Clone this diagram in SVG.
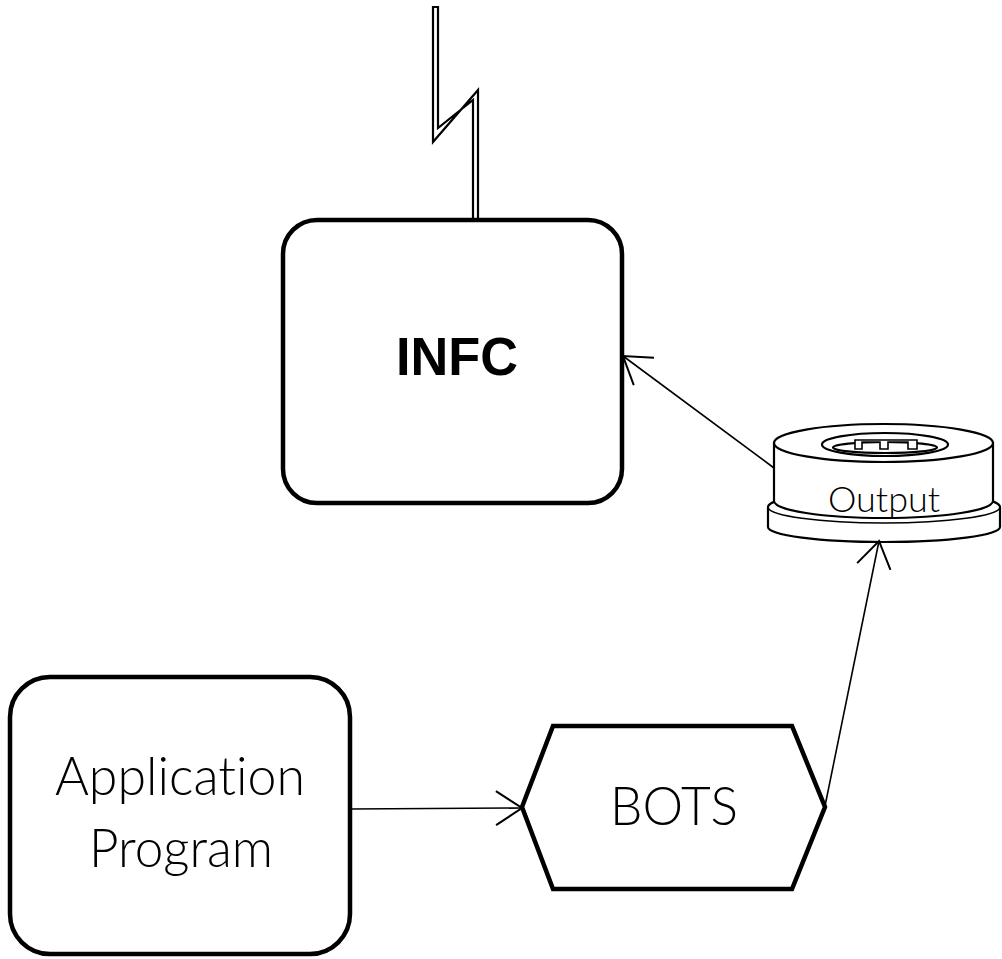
<svg xmlns="http://www.w3.org/2000/svg" width="1002" height="959" viewBox="0 0 1002 959">
  <style>
    .box { fill: #fff; stroke: #000; stroke-width: 4.5; }
    .thin { fill: #fff; stroke: #000; stroke-width: 2.2; }
    .wire { fill: none; stroke: #000; stroke-width: 1.6; }
    .label { font-family: "Liberation Sans", Arial, sans-serif; fill: #000; text-anchor: middle; }
    .light { font-family: Lato, "Liberation Sans", Arial, sans-serif; font-weight: 300; font-variant-ligatures: none; font-feature-settings: "liga" 0, "dlig" 0, "clig" 0; }
  </style>
  <defs>
    <marker id="open-arrow" markerUnits="userSpaceOnUse" markerWidth="40" markerHeight="40" viewBox="-30 -20 34 40" refX="0" refY="0" orient="auto">
      <path d="M-26,-17 L0,0 L-26,17" fill="none" stroke="#000" stroke-width="2"/>
    </marker>
  </defs>
  <rect width="1002" height="959" fill="#fff"/>

  <!-- antenna bolt feeding the INFC -->
  <g id="antenna">
    <polygon class="thin" stroke-width="2.6" stroke-linejoin="miter" points="433,7 438,7 438,128 473,100 473,219 478,219 478,90 433,142"/>
  </g>

  <!-- INFC -->
  <g id="infc">
    <rect class="box" x="283" y="220" width="339" height="283" rx="34" ry="34"/>
    <text class="label" x="457" y="375" font-size="54" font-weight="bold" textLength="122" lengthAdjust="spacingAndGlyphs">INFC</text>
  </g>

  <!-- Application Program -->
  <g id="application-program">
    <rect class="box" x="10" y="677" width="340" height="277" rx="40" ry="40"/>
    <text class="label light" x="180" y="795" font-size="53" textLength="250" lengthAdjust="spacingAndGlyphs">Application</text>
    <text class="label light" x="181" y="867" font-size="53" textLength="184" lengthAdjust="spacingAndGlyphs">Program</text>
  </g>

  <!-- BOTS -->
  <g id="bots">
    <polygon class="box" stroke-width="5" points="522,807 553,726 792,726 825,807 792,889 553,889"/>
    <text class="label light" x="674" y="825" font-size="53" textLength="128" lengthAdjust="spacingAndGlyphs">BOTS</text>
  </g>

  <!-- Output: disc drive style cylinder -->
  <g id="output">
    <!-- base flange -->
    <path class="thin" d="M768,507 L768,527 A116,15 0 0 0 1000,527 L1000,507 A116,16 0 0 0 768,507 Z"/>
    <path class="wire" stroke-width="2.2" d="M768,507 A116,16 0 0 0 1000,507"/>
    <!-- body -->
    <path class="thin" d="M774,443 L774,501 A109.5,17 0 0 0 993,501 L993,443 Z"/>
    <ellipse class="thin" cx="883.5" cy="443" rx="109.5" ry="19"/>
    <!-- spindle ring -->
    <ellipse class="thin" cx="885" cy="444.5" rx="63" ry="11.5"/>
    <ellipse class="thin" cx="885" cy="447.5" rx="52" ry="5.5"/>
    <path fill="#fff" stroke="#000" stroke-width="1.6" d="M855,440 L917,440 L917,449 L908,449 L908,442 L888,442 L888,449 L880,449 L880,442 L862,442 L862,449 L855,449 Z"/>
    <text class="label light" x="884" y="512" font-size="36" textLength="112" lengthAdjust="spacingAndGlyphs">Output</text>
  </g>

  <!-- connectors -->
  <g id="connectors">
    <line class="wire" x1="350" y1="809" x2="522" y2="808" marker-end="url(#open-arrow)"/>
    <line class="wire" x1="825" y1="806" x2="879" y2="541" marker-end="url(#open-arrow)"/>
    <line class="wire" x1="774" y1="468" x2="623" y2="356" marker-end="url(#open-arrow)"/>
  </g>
</svg>
